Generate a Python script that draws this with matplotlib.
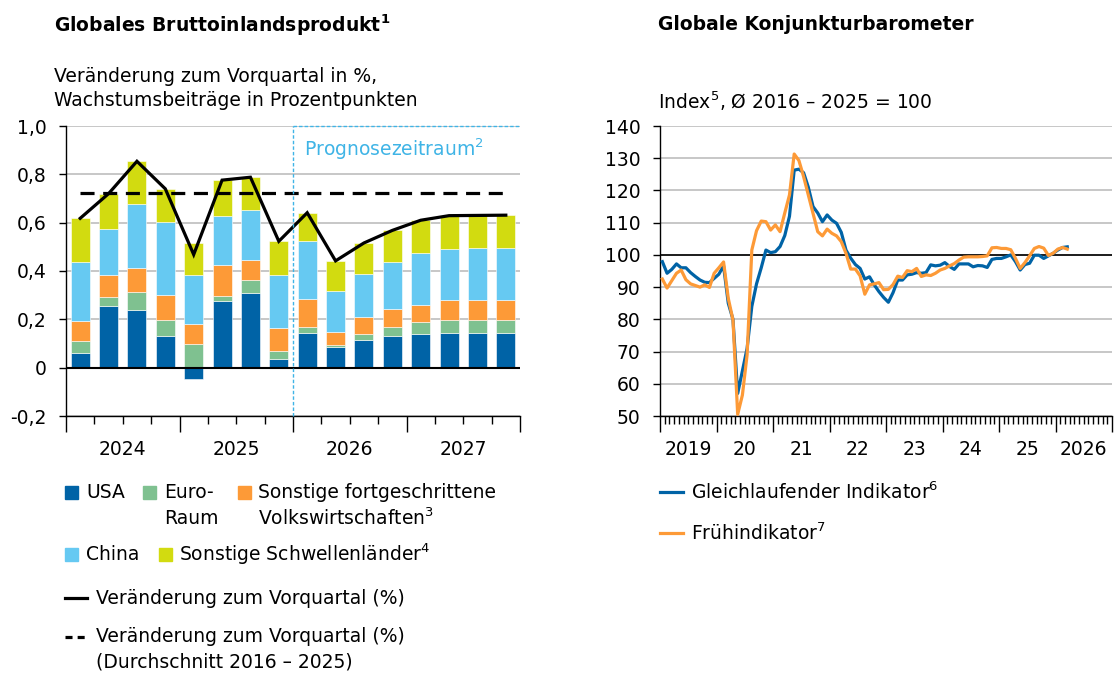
import numpy as np
import matplotlib
matplotlib.use('Agg')
import matplotlib.pyplot as plt
from matplotlib.patches import Rectangle

# --- Daten: Globales BIP (Wachstumsbeiträge, Prozentpunkte) ---
years_left = ['2024', '2025', '2026', '2027']
usa = [0.060, 0.257, 0.239, 0.133, -0.045, 0.274, 0.311, 0.034,
       0.143, 0.087, 0.116, 0.131, 0.138, 0.143, 0.143, 0.143]
euro = [0.051, 0.035, 0.075, 0.065, 0.100, 0.023, 0.051, 0.035,
        0.025, 0.008, 0.024, 0.038, 0.049, 0.055, 0.055, 0.055]
sonst_fortg = [0.083, 0.093, 0.097, 0.103, 0.080, 0.128, 0.085, 0.095,
               0.117, 0.054, 0.069, 0.074, 0.074, 0.080, 0.083, 0.084]
china = [0.244, 0.189, 0.266, 0.300, 0.204, 0.202, 0.204, 0.221,
         0.239, 0.169, 0.179, 0.193, 0.214, 0.213, 0.213, 0.212]
sonst_schwell = [0.181, 0.145, 0.177, 0.140, 0.132, 0.149, 0.137, 0.138,
                 0.114, 0.124, 0.129, 0.135, 0.137, 0.135, 0.136, 0.137]
veraenderung = [0.618, 0.720, 0.854, 0.740, 0.468, 0.776, 0.788, 0.523,
                0.641, 0.442, 0.516, 0.568, 0.610, 0.629, 0.630, 0.631]
durchschnitt = 0.722
prognose_start = 8  # erstes Prognosequartal (2026 Q1)

yticks_left = [-0.2, 0, 0.2, 0.4, 0.6, 0.8, 1.0]
ylabels_left = ['-0,2', '0', '0,2', '0,4', '0,6', '0,8', '1,0']

# --- Daten: Konjunkturbarometer (monatlich ab Jan 2019) ---
years_right = ['2019', '20', '21', '22', '23', '24', '25', '2026']
gleichlaufend = [
    97.9, 94.3, 95.5, 97.2, 96.0, 96.0, 94.5, 93.3, 92.2, 91.5, 91.4, 92.7,
    94.0, 96.6, 85.0, 80.0, 57.0, 64.0, 71.0, 84.0, 91.0, 96.0, 101.5, 100.7,
    101.0, 102.6, 106.0, 112.0, 126.3, 126.6, 125.5, 121.0, 115.0, 113.0, 110.3, 112.4,
    110.8, 109.8, 107.0, 101.5, 99.0, 97.0, 95.8, 92.5, 93.2, 90.7, 88.6, 86.8,
    85.3, 88.3, 92.2, 92.2, 93.8, 94.0, 94.5, 94.3, 94.5, 96.9, 96.6, 96.8,
    97.6, 96.4, 95.5, 97.2, 97.2, 97.2, 96.3, 96.7, 96.6, 96.1, 98.6, 98.9,
    98.9, 99.4, 100.0, 97.9, 95.3, 97.0, 97.4, 99.9, 99.9, 98.9, 99.7, 100.5,
    101.5, 102.3, 102.5]
frueh = [
    92.5, 89.7, 92.0, 94.3, 95.3, 92.3, 91.0, 90.5, 90.0, 90.7, 89.9, 94.3,
    96.0, 97.8, 86.5, 79.8, 50.5, 56.5, 69.0, 101.5, 107.5, 110.5, 110.3, 107.7,
    109.3, 107.2, 113.0, 118.6, 131.3, 129.3, 124.3, 118.6, 112.9, 107.2, 105.9, 108.0,
    106.7, 105.9, 104.1, 100.5, 95.6, 95.6, 93.5, 87.8, 90.7, 91.0, 91.4, 89.2,
    89.3, 90.8, 93.4, 93.0, 95.1, 94.8, 95.8, 93.3, 93.8, 93.6, 94.3, 95.3,
    95.8, 96.6, 97.3, 98.4, 99.3, 99.4, 99.4, 99.4, 99.5, 99.7, 102.2, 102.3,
    102.0, 102.0, 101.6, 98.9, 95.8, 97.6, 99.7, 102.0, 102.6, 102.1, 99.8, 100.5,
    101.8, 102.3, 101.8]

# --- Stil ---
W, H = 1116, 673
FS = 13.5
C_USA, C_EURO, C_FORTG = '#0063a6', '#7fc190', '#fd9a37'
C_CHINA, C_SCHWELL = '#66c9f2', '#d2db10'
C_PROG = '#3fb4e6'
C_GRID = '#bdbdbd'
plt.rcParams['font.family'] = ['DejaVu Sans']
plt.rcParams['font.size'] = FS
plt.rcParams['mathtext.fontset'] = 'dejavusans'

fig = plt.figure(figsize=(W / 100, H / 100), dpi=100)

# Overlay in Pixelkoordinaten fuer Titel und Legenden
ov = fig.add_axes([0, 0, 1, 1])
ov.set_xlim(0, W)
ov.set_ylim(H, 0)
ov.axis('off')


def style_axes(ax):
    for s in ['top', 'right']:
        ax.spines[s].set_visible(False)
    for s in ['left', 'bottom']:
        ax.spines[s].set_linewidth(1.0)
    ax.tick_params(axis='y', direction='out', length=5, width=1, pad=9, labelsize=FS)
    ax.tick_params(axis='x', which='major', direction='out', length=11.5, width=1, labelbottom=False)
    ax.tick_params(axis='x', which='minor', direction='out', length=5.8, width=1)
    ax.yaxis.grid(True, color=C_GRID, lw=1.2, zorder=0)
    ax.set_axisbelow(True)


# --- linke Grafik ---
ax1 = fig.add_axes([66 / W, 1 - 416 / H, 454 / W, 290 / H])
style_axes(ax1)
n = len(usa)
x = np.arange(n) + 0.5
pos_base = np.zeros(n)
neg_base = np.zeros(n)
for vals, col in zip([usa, euro, sonst_fortg, china, sonst_schwell],
                     [C_USA, C_EURO, C_FORTG, C_CHINA, C_SCHWELL]):
    v = np.array(vals)
    base = np.where(v >= 0, pos_base, neg_base)
    ax1.bar(x, v, 0.67, bottom=base, color=col, edgecolor='white', linewidth=0.4, zorder=2)
    pos_base += np.where(v >= 0, v, 0)
    neg_base += np.where(v < 0, v, 0)

ax1.axhline(0, color='black', lw=1.5, zorder=3)
ax1.plot(x, veraenderung, color='black', lw=2.3, zorder=4, solid_joinstyle='miter')
ax1.plot([x[0], x[-1]], [durchschnitt, durchschnitt], color='black', lw=2.3,
         dashes=(4.4, 2.7), zorder=4)

# Prognosezeitraum
ax1.plot([prognose_start, prognose_start], [-0.2, 1.0], color=C_PROG, lw=1.0,
         ls=(0, (2.5, 1.5)), zorder=5, clip_on=False)
ax1.plot([prognose_start, n], [1.0, 1.0], color=C_PROG, lw=1.0,
         ls=(0, (2.5, 1.5)), zorder=5, clip_on=False)
ax1.text(prognose_start + 0.4, 0.905, r'Prognosezeitraum$^2$', color=C_PROG,
         fontsize=FS, va='center', ha='left')

ax1.set_xlim(0, n)
ax1.set_ylim(-0.2, 1.0)
ax1.set_yticks(yticks_left)
ax1.set_yticklabels(ylabels_left)
ax1.set_xticks(np.arange(0, n + 1, 4))
ax1.set_xticks(np.arange(0, n + 1, 1), minor=True)
for i, lab in enumerate(years_left):
    ax1.text(4 * i + 2, -0.117, lab, transform=ax1.get_xaxis_transform(),
             ha='center', va='center', fontsize=FS)

# --- rechte Grafik ---
ax2 = fig.add_axes([660 / W, 1 - 416 / H, 452 / W, 290 / H])
style_axes(ax2)
m = np.arange(len(gleichlaufend)) + 0.5
ax2.axhline(100, color='black', lw=1.2, zorder=2)
ax2.plot(m, gleichlaufend, color=C_USA, lw=2.3, zorder=3)
ax2.plot(m, frueh, color=C_FORTG, lw=2.3, zorder=4)
ax2.set_xlim(0, 12 * len(years_right))
ax2.set_ylim(50, 140)
ax2.set_yticks(np.arange(50, 141, 10))
ax2.set_xticks(np.arange(0, 12 * len(years_right) + 1, 12))
ax2.set_xticks(np.arange(0, 12 * len(years_right) + 1, 1), minor=True)
for i, lab in enumerate(years_right):
    ax2.text(12 * i + 6, -0.117, lab, transform=ax2.get_xaxis_transform(),
             ha='center', va='center', fontsize=FS)

# --- Titel ---
ov.text(54, 25, r'Globales Bruttoinlandsprodukt$^\mathbf{1}$', fontsize=FS,
        fontweight='bold', va='center')
ov.text(54, 76, 'Veränderung zum Vorquartal in %,', fontsize=FS, va='center')
ov.text(54, 101, 'Wachstumsbeiträge in Prozentpunkten', fontsize=FS, va='center')
ov.text(658, 25, 'Globale Konjunkturbarometer', fontsize=FS, fontweight='bold', va='center')
ov.text(658, 101, r'Index$^5$, Ø 2016 – 2025 = 100', fontsize=FS, va='center')

# --- Legende links ---
def square(xp, yp, col):
    ov.add_patch(Rectangle((xp, yp - 6.5), 13, 13, color=col))


square(65, 492, C_USA)
ov.text(86, 492, 'USA', va='center')
square(143, 492, C_EURO)
ov.text(164, 492, 'Euro-', va='center')
ov.text(164, 518, 'Raum', va='center')
square(238, 492, C_FORTG)
ov.text(258, 492, 'Sonstige fortgeschrittene', va='center')
ov.text(258, 518, r'Volkswirtschaften$^3$', va='center')
square(65, 554, C_CHINA)
ov.text(86, 554, 'China', va='center')
square(159, 554, C_SCHWELL)
ov.text(179, 554, r'Sonstige Schwellenländer$^4$', va='center')
ov.plot([65, 87], [598, 598], color='black', lw=2.3)
ov.text(96, 598, 'Veränderung zum Vorquartal (%)', va='center')
ov.plot([65, 87], [637, 637], color='black', lw=2.3, dashes=(2.2, 1.6))
ov.text(96, 637, 'Veränderung zum Vorquartal (%)', va='center')
ov.text(96, 662, '(Durchschnitt 2016 – 2025)', va='center')

# --- Legende rechts ---
ov.plot([660, 683], [492, 492], color=C_USA, lw=2.3)
ov.text(691, 492, r'Gleichlaufender Indikator$^6$', va='center')
ov.plot([660, 683], [533, 533], color=C_FORTG, lw=2.3)
ov.text(691, 533, r'Frühindikator$^7$', va='center')

fig.savefig('out.png', dpi=100)
